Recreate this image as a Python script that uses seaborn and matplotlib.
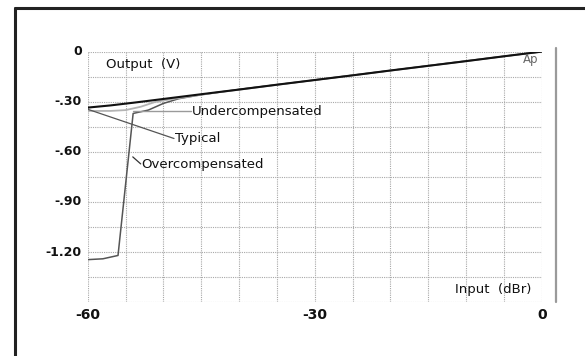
import matplotlib
matplotlib.use("Agg")
import matplotlib.pyplot as plt
from matplotlib.lines import Line2D
import seaborn as sns
import pandas as pd

# ---- data ----
typical_x = [-60, -57, -54, -51, -48, -45, -40, -35, -30, -25, -20, -15, -10, -5, 0]
typical_y = [-0.335, -0.322, -0.306, -0.289, -0.272, -0.255, -0.227, -0.198, -0.170, -0.142, -0.113, -0.085, -0.057, -0.028, 0.0]

under_x = [-60, -57, -55, -53, -51, -49, -46, -43, -40, -30, -20, -10, 0]
under_y = [-0.355, -0.355, -0.350, -0.330, -0.300, -0.285, -0.265, -0.245, -0.228, -0.170, -0.114, -0.057, 0.0]

over_x = [-60, -58, -56, -54, -52, -50, -48, -45, -40, -30, -20, -10, 0]
over_y = [-1.245, -1.240, -1.220, -0.370, -0.350, -0.310, -0.282, -0.258, -0.226, -0.170, -0.113, -0.056, 0.0]

series_names = ["Overcompensated", "Undercompensated", "Typical"]
x_ticks = [-60, -30, 0]
x_tick_labels = ["-60", "-30", "0"]
y_ticks = [0, -0.30, -0.60, -0.90, -1.20]
y_tick_labels = ["0", "-.30", "-.60", "-.90", "-1.20"]

frames = []
for name, xs, ys in zip(series_names, [over_x, under_x, typical_x], [over_y, under_y, typical_y]):
    frames.append(pd.DataFrame({"input": xs, "output": ys, "curve": name}))
df = pd.concat(frames, ignore_index=True)

sns.set_theme(style="white")
plt.rcParams["font.family"] = ["DejaVu Sans"]

fig = plt.figure(figsize=(5.85, 3.56), dpi=100)
ax = fig.add_axes([0.150, 0.151, 0.926 - 0.150, 0.855 - 0.151])

palette = {"Typical": "#111111", "Undercompensated": "#b4b4b4", "Overcompensated": "#555555"}
sizes = {"Typical": 1.5, "Undercompensated": 1.3, "Overcompensated": 1.1}
sns.lineplot(data=df, x="input", y="output", hue="curve", palette=palette,
             size="curve", sizes=sizes,
             estimator=None, legend=False, ax=ax, sort=True)

ax.set_xlim(-60, 0)
ax.set_ylim(-1.5, 0)
ax.set_xticks(range(-60, 1, 5), minor=False)
ax.set_yticks([-1.5 + 0.15 * i for i in range(11)])
ax.grid(True, color="#a8a8a8", linestyle=(0, (1, 1)), linewidth=0.8)
ax.set_axisbelow(True)
ax.tick_params(length=0, labelbottom=False, labelleft=False)
for s in ax.spines.values():
    s.set_visible(False)
ax.set_xlabel("")
ax.set_ylabel("")

for v, lab in zip(x_ticks, x_tick_labels):
    ax.text(v, -1.535, lab, ha="center", va="top", clip_on=False,
            fontsize=10, fontweight="bold", color="#111111")
for v, lab in zip(y_ticks, y_tick_labels):
    ax.text(-60.8, v, lab, ha="right", va="center", clip_on=False,
            fontsize=9, fontweight="bold", color="#111111")

lab_font = dict(fontsize=9.5, color="#111111")
ax.text(-57.6, -0.08, "Output  (V)", ha="left", va="center", **lab_font)
ax.text(-1.3, -1.425, "Input  (dBr)", ha="right", va="center", **lab_font)
ax.text(-0.4, -0.045, "Ap", ha="right", va="center", fontsize=8.5, color="#666666")

# leader lines and curve labels
ax.plot([-54.0, -46.3], [-0.358, -0.358], color="#9a9a9a", linewidth=1.0)
ax.text(-46.2, -0.358, "Undercompensated", ha="left", va="center", **lab_font)
ax.plot([-60.0, -48.6], [-0.345, -0.52], color="#555555", linewidth=0.9)
ax.text(-48.5, -0.52, "Typical", ha="left", va="center", **lab_font)
ax.plot([-54.05, -53.0], [-0.63, -0.672], color="#333333", linewidth=0.9)
ax.text(-52.9, -0.674, "Overcompensated", ha="left", va="center", **lab_font)

# decorative frame and right-hand bar
fig.add_artist(Line2D([15 / 585, 15 / 585], [0, 1 - 8 / 356], color="#222222", linewidth=2.2))
fig.add_artist(Line2D([15 / 585, 1], [1 - 8 / 356, 1 - 8 / 356], color="#222222", linewidth=2.2))
fig.add_artist(Line2D([556 / 585, 556 / 585], [1 - 48 / 356, 1 - 302 / 356], color="#9a9a9a", linewidth=1.6))

fig.savefig("out.png", dpi=100)
